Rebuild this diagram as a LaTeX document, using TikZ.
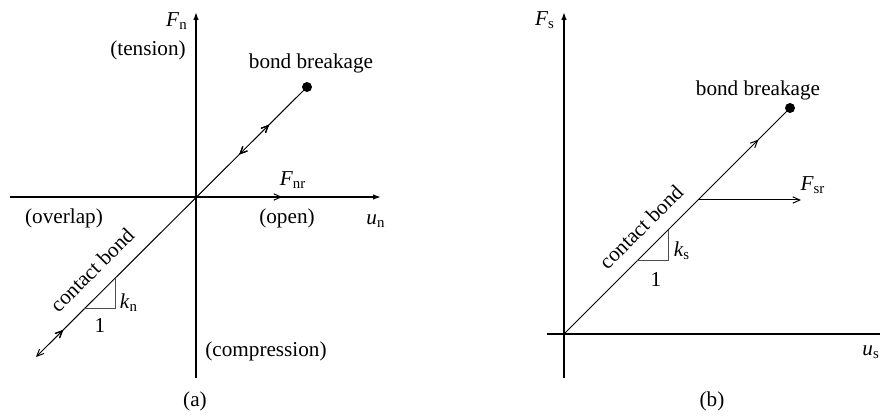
\documentclass[tikz,border=0pt]{standalone}
\usepackage{fontspec}
\setmainfont{Liberation Serif}
\usetikzlibrary{arrows.meta,decorations.markings}
\newcommand{\qsym}[2]{\textit{#1}\textsubscript{#2}}
\begin{document}
\begin{tikzpicture}[x=0.5pt,y=-0.5pt,
  font=\fontsize{10.6}{12}\selectfont,
  axis/.style={line width=0.75pt,-{Latex[length=4pt,width=2.8pt]}},
  plainaxis/.style={line width=0.75pt},
  bondline/.style={line width=0.5pt},
  barb/.style={line width=0.5pt,-{Straight Barb[length=3.5pt,width=3.2pt]}},
  slopetri/.style={line width=0.5pt,draw=black!70},
  brk/.style={circle,fill,inner sep=0pt,minimum size=5pt},
  lbl/.style={inner sep=0pt},
  midfwd/.style={postaction={decorate},decoration={markings,
     mark=at position #1 with {\arrow{Straight Barb[length=3.5pt,width=3.2pt]}}}},
  midbwd/.style={postaction={decorate},decoration={markings,
     mark=at position #1 with {\arrowreversed{Straight Barb[length=3.5pt,width=3.2pt]}}}}
]
\useasboundingbox (0,0) rectangle (880,416);

% ---------------- panel (a)
\coordinate (Oa) at (196,197);
\coordinate (a-top) at (196,12);
\coordinate (a-bot) at (196,378);
\coordinate (a-left) at (10,197);
\coordinate (a-right) at (381,197);
\coordinate (a-low) at (36,357);
\coordinate (a-fnr) at (282,197);
\draw[axis] (a-bot) -- (a-top);
\draw[axis] (a-left) -- (a-right);
\node[brk] (brka) at (307,87) {};
\draw[bondline,{Straight Barb[length=3.5pt,width=3.2pt]}-,midfwd=0.1,midfwd=0.86,midbwd=0.75] (a-low) -- (brka.center);
\draw[barb] (Oa) -- (a-fnr);
\coordinate (ta1) at (84,309);
\coordinate (ta2) at (115,309);
\coordinate (ta3) at (115,278);
\draw[slopetri] (ta1) -- (ta2) -- (ta3);

\node[lbl] (Fn) at (177,21) {\qsym{F}{n}};
\node[lbl] (tension) at (148,50) {(tension)};
\node[lbl] (bba) at (311,63) {bond breakage};
\node[lbl] (Fnr) at (293,180) {\qsym{F}{nr}};
\node[lbl] (overlap) at (64,218) {(overlap)};
\node[lbl] (open) at (287,218) {(open)};
\node[lbl] (un) at (376,221) {\qsym{u}{n}};
\node[lbl,rotate=45] (cba) at (92,270) {contact bond};
\node[lbl] (kn) at (129,303) {\qsym{k}{n}};
\node[lbl] (onea) at (100,326) {1};
\node[lbl] (comp) at (266,351) {(compression)};
\node[lbl] (capa) at (195,401) {(a)};

% ---------------- panel (b)
\coordinate (Ob) at (564,334);
\coordinate (b-top) at (564,12);
\coordinate (b-bot) at (564,378);
\coordinate (b-left) at (547,334);
\coordinate (b-right) at (880,334);
\coordinate (b-fs) at (698,200);
\coordinate (b-fe) at (801,200);
\draw[axis] (b-bot) -- (b-top);
\draw[plainaxis] (b-left) -- (b-right);
\node[brk] (brkb) at (790,108) {};
\draw[bondline,midfwd=0.86] (Ob) -- (brkb.center);
\draw[barb] (b-fs) -- (b-fe);
\coordinate (tb1) at (637,261);
\coordinate (tb2) at (668,261);
\coordinate (tb3) at (668,230);
\draw[slopetri] (tb1) -- (tb2) -- (tb3);

\node[lbl] (Fs) at (545,20) {\qsym{F}{s}};
\node[lbl] (bbb) at (758,90) {bond breakage};
\node[lbl] (Fsr) at (813,185) {\qsym{F}{sr}};
\node[lbl,rotate=45] (cbb) at (641,227) {contact bond};
\node[lbl] (ks) at (682,251) {\qsym{k}{s}};
\node[lbl] (oneb) at (656,280) {1};
\node[lbl,anchor=west] (us) at (862,352) {\qsym{u}{s}};
\node[lbl] (capb) at (712,401) {(b)};
\end{tikzpicture}
\end{document}
